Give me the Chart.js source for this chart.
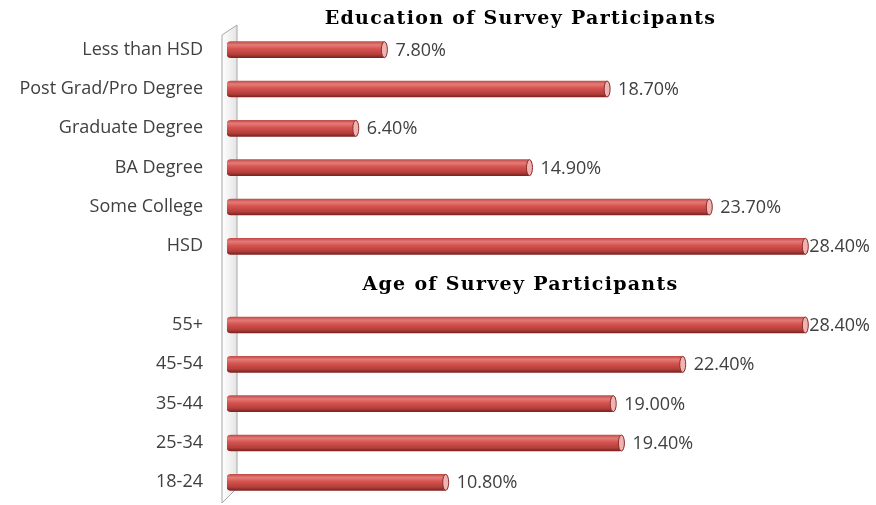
<!DOCTYPE html>
<html>
<head>
<meta charset="utf-8">
<script src="https://cdn.jsdelivr.net/npm/chart.js@4"></script>
<style>
  html, body { margin:0; padding:0; background:#fff; overflow:hidden; }
  #wrap { position:relative; width:876px; height:505px; }
</style>
</head>
<body>
<div id="wrap"><canvas id="surveyChart"></canvas></div>
<script>
// values
const categories = ['Less than HSD','Post Grad/Pro Degree','Graduate Degree','BA Degree','Some College','HSD','','55+','45-54','35-44','25-34','18-24'];
const percentages = [7.8, 18.7, 6.4, 14.9, 23.7, 28.4, null, 28.4, 22.4, 19.0, 19.4, 10.8];
const sectionTitles = ['Education of Survey Participants', 'Age of Survey Participants'];
const sectionRows = [-1, 6]; // row the title sits on (-1 = above the first row)

const BAR_H = 16;
const labelFont = '18px "Open Sans"';

function barGradient(ctx, y){
  const g = ctx.createLinearGradient(0, y - BAR_H/2, 0, y + BAR_H/2);
  g.addColorStop(0, '#c24c48');
  g.addColorStop(0.2, '#e37c78');
  g.addColorStop(0.45, '#d6534f');
  g.addColorStop(0.8, '#b33f3b');
  g.addColorStop(1, '#7c2321');
  return g;
}

// the thin 3d wall on the left of the bars
const wallPlugin = {
  id:'wall',
  beforeDatasetsDraw(chart){
    const { ctx, chartArea:a } = chart;
    const L = a.left;
    ctx.save();
    const g = ctx.createLinearGradient(L-5, 0, L+10, 0);
    g.addColorStop(0, '#ffffff');
    g.addColorStop(1, '#e4e4e4');
    ctx.beginPath();
    ctx.moveTo(L-5, a.top+5);
    ctx.lineTo(L+10, a.top-5);
    ctx.lineTo(L+10, a.bottom-14);
    ctx.lineTo(L-5, a.bottom+1);
    ctx.closePath();
    ctx.fillStyle = g;
    ctx.fill();
    ctx.strokeStyle = '#a6a6a6';
    ctx.lineWidth = 1;
    ctx.stroke();
    ctx.restore();
  }
};

// end caps, value labels and the two section titles
const decoPlugin = {
  id:'deco',
  afterDatasetsDraw(chart){
    const { ctx, chartArea:a, width } = chart;
    const meta = chart.getDatasetMeta(0);
    ctx.save();
    meta.data.forEach((bar, i) => {
      const v = percentages[i];
      if (v === null) return;
      // cylinder end
      ctx.beginPath();
      ctx.ellipse(bar.x - 2, bar.y, 3, BAR_H/2, 0, 0, Math.PI*2);
      ctx.fillStyle = '#efb3b1';
      ctx.fill();
      ctx.strokeStyle = '#8a2c2a';
      ctx.lineWidth = 1;
      ctx.stroke();
      // value label
      const txt = v.toFixed(2) + '%';
      ctx.font = labelFont;
      ctx.fillStyle = '#404040';
      ctx.textBaseline = 'middle';
      ctx.textAlign = 'left';
      const tw = ctx.measureText(txt).width;
      const x = Math.min(bar.x + 9, width - tw - 6);
      ctx.fillText(txt, x, bar.y + 1);
    });

    const yScale = chart.scales.y;
    const step = (a.bottom - a.top) / categories.length;
    ctx.font = 'bold 19px "DejaVu Serif"';
    ctx.letterSpacing = '1.3px';
    ctx.fillStyle = '#000';
    ctx.textAlign = 'center';
    ctx.textBaseline = 'middle';
    const cx = (a.left + a.right) / 2 - 13;
    sectionTitles.forEach((t, k) => {
      const r = sectionRows[k];
      const y = r < 0 ? yScale.getPixelForValue(0) - step + 9 : yScale.getPixelForValue(r) - 1;
      ctx.fillText(t, cx, y);
    });
    ctx.restore();
  }
};

new Chart(document.getElementById('surveyChart'), {
  type:'bar',
  data:{
    labels: categories,
    datasets:[{
      data: percentages,
      backgroundColor: c => {
        const ys = c.chart.scales.y;
        const y = ys ? ys.getPixelForValue(c.dataIndex) : NaN;
        if (!isFinite(y)) return '#d9544f';
        return barGradient(c.chart.ctx, y);
      },
      barThickness: BAR_H,
      borderSkipped: false,
      borderRadius: 4,
      borderWidth: 0
    }]
  },
  options:{
    indexAxis:'y',
    responsive:true,
    maintainAspectRatio:false,
    animation:false,
    layout:{ padding:{ top:30, bottom:3, left:0, right:36 } },
    plugins:{ legend:{ display:false }, tooltip:{ enabled:false } },
    scales:{
      x:{ display:false, min:0, max:30 },
      y:{
        grid:{ display:false, drawTicks:false },
        border:{ display:false },
        ticks:{ color:'#404040', font:{ family:'Open Sans', size:18 }, padding:24, autoSkip:false },
        afterFit(scale){
          scale.width = 227;
          // labels sit inside their rows, no need for edge padding
          scale.paddingTop = 0;
          scale.paddingBottom = 0;
        }
      }
    }
  },
  plugins:[wallPlugin, decoPlugin]
});
</script>
</body>
</html>
